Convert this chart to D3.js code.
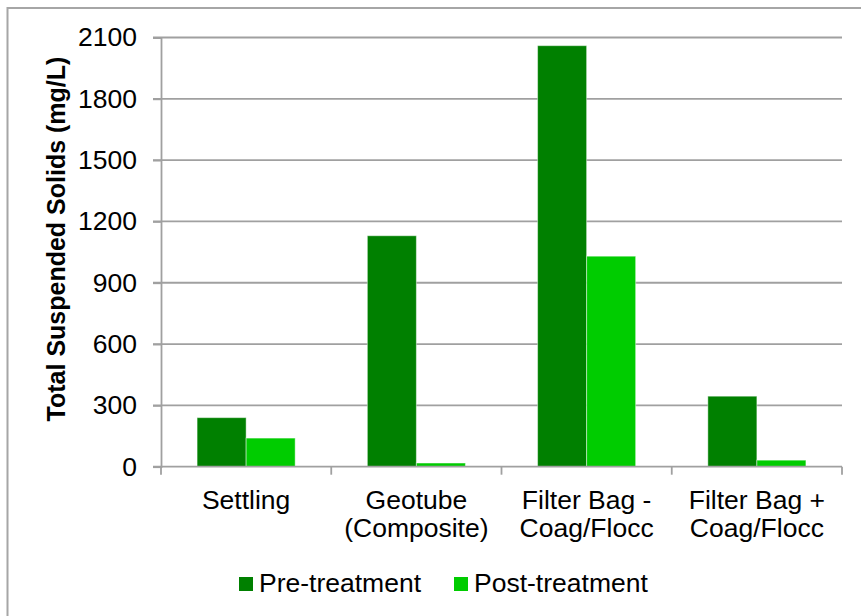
<!DOCTYPE html>
<html>
<head>
<meta charset="utf-8">
<script src="https://cdn.jsdelivr.net/npm/d3@7"></script>
<style>
  body { margin: 0; background: #fff; }
  text { font-family: "Liberation Sans", Arial, sans-serif; fill: #000; }
</style>
</head>
<body>
<div id="graf"></div>
<script>
// Datos
categorias = [['Settling'], ['Geotube', '(Composite)'], ['Filter Bag -', 'Coag/Flocc'], ['Filter Bag +', 'Coag/Flocc']]
claves = ['Settling', 'Geotube', 'FB-', 'FB+']
series = ['Pre-treatment', 'Post-treatment']
preTratamiento = [240, 1130, 2060, 345]
postTratamiento = [140, 18, 1030, 32]
yTicks = [0, 300, 600, 900, 1200, 1500, 1800, 2100]
colores = ['#008000', '#00CC00']

ancho_total = 861
alto_total = 616
margins = {top: 37.5, left: 161, right: 19, bottom: 149.3}
ancho = ancho_total - margins.left - margins.right
alto = alto_total - margins.top - margins.bottom
fuente = '26.5px'

svg = d3.select('#graf').append('svg')
        .attr('width', ancho_total)
        .attr('height', alto_total)

// Marco exterior (se corta por la derecha y abajo)
svg.append('rect')
   .attr('x', 7.5).attr('y', 8)
   .attr('width', 900).attr('height', 700)
   .attr('fill', 'none')
   .attr('stroke', '#a6a6a6')
   .attr('stroke-width', 2)

g = svg.append('g')
       .attr('transform', `translate(${margins.left}, ${margins.top})`)

// Escaladores
y = d3.scaleLinear().domain([0, 2100]).range([alto, 0])
x = d3.scaleBand().domain(claves).range([0, ancho])
      .paddingInner(0.424).paddingOuter(0.212)
xs = d3.scaleBand().domain(series).range([0, x.bandwidth()])
color = d3.scaleOrdinal().domain(series).range(colores)

// Grid
g.selectAll('.grid')
 .data(yTicks.filter(d => d > 0))
 .enter().append('line')
 .attr('x1', -8).attr('x2', ancho)
 .attr('y1', d => y(d)).attr('y2', d => y(d))
 .attr('stroke', '#a0a0a0').attr('stroke-width', 1.8)

// Eje Y
yAxisCall = d3.axisLeft(y).tickValues(yTicks).tickSize(8).tickPadding(16)
              .tickFormat(d3.format('d'))
yAxisGroup = g.append('g').call(yAxisCall)
yAxisGroup.select('.domain').attr('stroke', '#a0a0a0').attr('stroke-width', 1.8)
yAxisGroup.selectAll('line').attr('stroke', '#a0a0a0').attr('stroke-width', 1.8)
yAxisGroup.selectAll('text')
          .style('font-size', fuente)
          .style('font-family', '"Liberation Sans", Arial, sans-serif')
          .attr('fill', '#000')

// Barras
datos = claves.map((k, i) => ({clave: k, valores: [
  {serie: series[0], valor: preTratamiento[i]},
  {serie: series[1], valor: postTratamiento[i]}
]}))

grupos = g.selectAll('.cat')
          .data(datos)
          .enter().append('g')
          .attr('transform', d => `translate(${x(d.clave)}, 0)`)

grupos.selectAll('rect')
      .data(d => d.valores)
      .enter().append('rect')
      .attr('x', d => xs(d.serie))
      .attr('y', d => y(d.valor))
      .attr('width', xs.bandwidth())
      .attr('height', d => y(0) - y(d.valor))
      .attr('fill', d => color(d.serie))
      .attr('stroke', 'rgba(255,255,255,0.45)')
      .attr('stroke-width', 1)

// Eje X
xAxisGroup = g.append('g').attr('transform', `translate(0, ${alto})`)
xAxisGroup.append('line')
          .attr('x1', -8).attr('x2', ancho)
          .attr('stroke', '#a0a0a0').attr('stroke-width', 1.8)
bordes = claves.map(k => x(k) - x.step() * x.paddingInner() / 2)
bordes.push(ancho)
xAxisGroup.selectAll('.tick')
          .data(bordes)
          .enter().append('line')
          .attr('x1', d => d).attr('x2', d => d)
          .attr('y1', 0).attr('y2', 8)
          .attr('stroke', '#a0a0a0').attr('stroke-width', 1.8)

etiquetas = xAxisGroup.selectAll('.lbl')
          .data(datos)
          .enter().append('text')
          .attr('text-anchor', 'middle')
          .style('font-size', fuente)
          .attr('transform', d => `translate(${x(d.clave) + x.bandwidth() / 2}, 42)`)
etiquetas.each(function(d, i) {
  categorias[i].forEach((linea, j) => {
    d3.select(this).append('tspan')
      .attr('x', 0).attr('y', j * 28.8)
      .text(linea)
  })
})

// Titulo eje Y
svg.append('text')
   .attr('transform', 'translate(65, 239) rotate(-90)')
   .attr('text-anchor', 'middle')
   .style('font-size', '25px')
   .style('font-weight', 'bold')
   .text('Total Suspended Solids (mg/L)')

// Leyenda
leyenda = svg.append('g').attr('transform', 'translate(239, 577)')
posX = [0, 215]
series.forEach((s, i) => {
  item = leyenda.append('g').attr('transform', `translate(${posX[i]}, 0)`)
  item.append('rect')
      .attr('width', 14).attr('height', 14)
      .attr('fill', color(s))
  item.append('text')
      .attr('x', 20).attr('y', 15)
      .style('font-size', fuente)
      .text(s)
})
</script>
</body>
</html>
